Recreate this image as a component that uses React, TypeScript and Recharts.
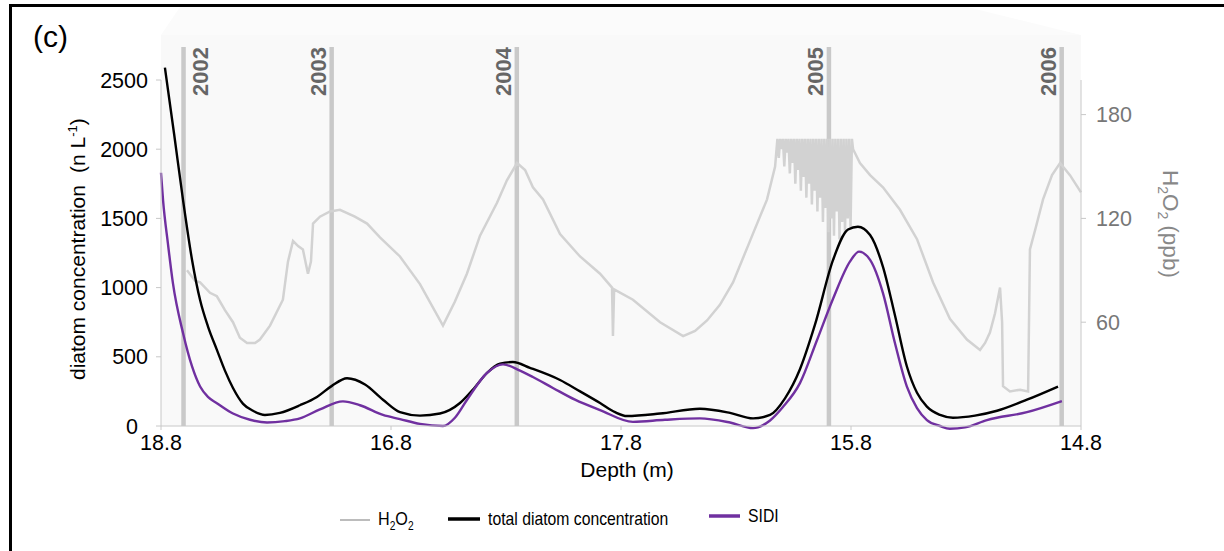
import React from 'react';
import { LineChart, Line, XAxis, YAxis, ReferenceLine } from 'recharts';

// ---------- data ----------
const depthTickPos = [0, 1, 2, 3, 4];
const depthTickLabels = ['18.8', '16.8', '17.8', '15.8', '14.8'];
const diatomTicks = [0, 500, 1000, 1500, 2000, 2500];
const h2o2Ticks = [60, 120, 180];

const yearPos = [0.098, 0.742, 1.547, 2.904, 3.916];
const yearLabels = ['2002', '2003', '2004', '2005', '2006'];

const totalPos = [0.017, 0.057, 0.096, 0.135, 0.17, 0.204, 0.243, 0.278, 0.313, 0.357, 0.4, 0.452, 0.517, 0.604, 0.678, 0.743, 0.809, 0.887, 0.965, 1.039, 1.126, 1.213, 1.3, 1.365, 1.417, 1.474, 1.53, 1.604, 1.735, 1.822, 1.909, 1.974, 2.026, 2.17, 2.343, 2.474, 2.574, 2.648, 2.713, 2.778, 2.843, 2.922, 2.987, 3.03, 3.083, 3.139, 3.191, 3.243, 3.287, 3.33, 3.387, 3.443, 3.539, 3.635, 3.765, 3.9];
const totalVal = [2590, 2110, 1630, 1200, 910, 720, 550, 400, 275, 160, 110, 80, 95, 150, 210, 290, 345, 300, 190, 100, 75, 90, 166, 280, 383, 450, 462, 420, 332, 250, 166, 100, 72, 90, 125, 95, 55, 80, 200, 410, 730, 1200, 1420, 1440, 1380, 1150, 800, 430, 240, 140, 80, 60, 75, 110, 190, 285];

const sidiPos = [0, 0.009, 0.03, 0.052, 0.096, 0.135, 0.17, 0.204, 0.243, 0.313, 0.387, 0.461, 0.539, 0.604, 0.691, 0.791, 0.865, 0.965, 1.039, 1.126, 1.226, 1.278, 1.33, 1.417, 1.487, 1.561, 1.617, 1.704, 1.8, 1.909, 2.052, 2.191, 2.343, 2.474, 2.574, 2.648, 2.704, 2.778, 2.852, 2.922, 2.996, 3.035, 3.083, 3.139, 3.191, 3.243, 3.287, 3.33, 3.387, 3.43, 3.496, 3.591, 3.765, 3.917];
const sidiVal = [1830, 1630, 1320, 1030, 670, 430, 285, 210, 165, 90, 45, 25, 35, 55, 120, 178, 150, 80, 50, 15, 0, 60, 188, 383, 445, 400, 354, 275, 190, 115, 30, 45, 55, 25, -15, 40, 137, 310, 620, 920, 1190, 1260, 1200, 960, 600, 285, 130, 43, 0, -20, -10, 43, 100, 180];

const h2o2Pos = [
  0.113, 0.148, 0.17, 0.213, 0.243, 0.278, 0.313, 0.343, 0.374, 0.409, 0.43, 0.474, 0.53, 0.552, 0.574, 0.596, 0.617, 0.639, 0.652, 0.661,
  0.691, 0.735, 0.778, 0.843, 0.896, 0.952, 1.039, 1.126, 1.226, 1.278, 1.33, 1.387, 1.461, 1.504, 1.548, 1.583, 1.617, 1.661, 1.735, 1.822,
  1.909, 1.961, 1.965, 1.97, 2.052, 2.17, 2.27, 2.322, 2.374, 2.43, 2.487, 2.561, 2.635, 2.67,
  2.68, 2.686, 2.692, 2.698, 2.704, 2.71, 2.716, 2.722, 2.728, 2.734, 2.74, 2.746, 2.752, 2.758, 2.764, 2.77, 2.776, 2.782, 2.788, 2.794,
  2.8, 2.806, 2.812, 2.818, 2.824, 2.83, 2.836, 2.842, 2.848, 2.854, 2.86, 2.866, 2.872, 2.878, 2.884, 2.89, 2.896, 2.902, 2.908, 2.914,
  2.92, 2.926, 2.932, 2.938, 2.944, 2.95, 2.956, 2.962, 2.968, 2.974, 2.98, 2.986, 2.992, 2.998, 3.004,
  3.009, 3.039, 3.083, 3.139, 3.213, 3.287, 3.357, 3.43, 3.504, 3.561, 3.583, 3.604, 3.626, 3.648, 3.657, 3.661, 3.691, 3.735, 3.77, 3.778,
  3.804, 3.835, 3.874, 3.909, 3.952, 4.0,
];
const h2o2Val = [
  90, 84, 83, 77, 75, 67, 60, 51, 48, 48, 50, 58, 73, 95, 107, 104, 102, 88, 95, 117,
  121, 124, 125, 121, 117, 109, 98, 82, 58, 72, 88, 110, 129, 142, 152, 148, 138, 131, 111, 98,
  88, 80, 52, 79, 73, 60, 52, 55, 61, 70, 83, 107, 131, 150,
  166, 155, 166, 160, 166, 150, 166, 158, 166, 146, 166, 152, 166, 140, 166, 148, 166, 136, 166, 144,
  166, 132, 166, 140, 166, 128, 166, 136, 166, 124, 166, 132, 166, 118, 166, 126, 166, 112, 166, 120,
  166, 110, 166, 124, 166, 108, 166, 118, 166, 112, 166, 120, 166, 114, 166,
  160, 152, 145, 138, 125, 108, 83, 62, 50, 44, 48, 54, 65, 80, 60, 23, 20, 21, 20, 102,
  115, 131, 145, 152, 145, 135,
];

const totalSeries = totalPos.map((x, i) => ({ x, y: totalVal[i] }));
const sidiSeries = sidiPos.map((x, i) => ({ x, y: sidiVal[i] }));
const h2o2Series = h2o2Pos.map((x, i) => ({ x, y: h2o2Val[i] }));

// ---------- styles ----------
const W = 1224;
const H = 551;
const FONT = '"Liberation Sans", Arial, Helvetica, sans-serif';
const AXIS_GREY = '#c8c8c8';
const PURPLE = '#7030a0';
const H2O2_GREY = '#d2d2d2';
const CSS = '.recharts-wrapper [clip-path]{clip-path:none !important;}';

const makeYearShape = (label: string, labelRight: boolean) => (props: any) => {
  const x = props.x1;
  const top = Math.min(props.y1, props.y2) - 33;
  const bottom = Math.max(props.y1, props.y2);
  const tx = labelRight ? x + 24 : x - 6;
  return (
    <g>
      <line x1={x} x2={x} y1={top} y2={bottom} stroke="#c9c9c9" strokeWidth={4.5} />
      <text
        x={tx}
        y={top}
        transform={`rotate(-90 ${tx} ${top})`}
        textAnchor="end"
        fontSize={22}
        fontWeight="bold"
        fill="#666"
        fontFamily={FONT}
      >
        {label}
      </text>
    </g>
  );
};

const leftTick = (props: any) => {
  const v = props.payload ? props.payload.value : '';
  const shift = v === 0 ? 10 : 0;
  return (
    <text
      x={props.x - shift}
      y={props.y}
      dy="0.355em"
      textAnchor="end"
      fontSize={21.5}
      fill="#000"
      fontFamily={FONT}
    >
      {v}
    </text>
  );
};

const leftTitle = (props: any) => {
  const vb = props && props.viewBox ? props.viewBox : { x: 101, y: 80 };
  const x = vb.x - 16;
  const y = vb.y + 300;
  return (
    <text x={x} y={y} transform={`rotate(-90 ${x} ${y})`} fontSize={21} fill="#000" fontFamily={FONT}>
      diatom concentration
      <tspan dx={12}>(n L</tspan>
      <tspan dy={-8} fontSize={13}>-1</tspan>
      <tspan dy={8}>)</tspan>
    </text>
  );
};

const rightTitle = (props: any) => {
  const vb = props && props.viewBox ? props.viewBox : { x: 1081, y: 80 };
  const x = vb.x + 82;
  const y = vb.y + 90;
  return (
    <text x={x} y={y} transform={`rotate(90 ${x} ${y})`} fontSize={22.5} fill="#888" fontFamily={FONT}>
      H<tspan dy={5} fontSize={14}>2</tspan>
      <tspan dy={-5}>O</tspan>
      <tspan dy={5} fontSize={14}>2</tspan>
      <tspan dy={-5} dx={6}>(ppb)</tspan>
    </text>
  );
};

const bottomTitle = (props: any) => {
  const vb = props && props.viewBox ? props.viewBox : { x: 161, y: 426 };
  const x = vb.x + 466;
  const y = vb.y + 51;
  return (
    <text x={x} y={y} textAnchor="middle" fontSize={21} fill="#000" fontFamily={FONT}>
      Depth (m)
    </text>
  );
};

export default function App() {
  return (
    <div
      style={{
        position: 'absolute',
        left: 0,
        top: 0,
        width: W,
        height: H,
        overflow: 'hidden',
        background: '#fff',
        fontFamily: FONT,
      }}
    >
      <style>{CSS}</style>
      {/* plot background */}
      <svg style={{ position: 'absolute', left: 0, top: 0 }} width={W} height={H}>
        <polygon points="161,35 180,7 967,7 1081,35" fill="#fbfbfb" />
        <rect x={161} y={35} width={920} height={391} fill="#f9f9f9" />
      </svg>
      <div style={{ position: 'absolute', left: 0, top: 0 }}>
        <LineChart width={W} height={H} margin={{ top: 80, right: 83, bottom: 95, left: 101 }} style={{ fontFamily: FONT }}>
          <XAxis
            type="number"
            dataKey="x"
            domain={[0, 4]}
            ticks={depthTickPos}
            interval={0}
            tickFormatter={(v: number) => depthTickLabels[depthTickPos.indexOf(v)]}
            axisLine={{ stroke: AXIS_GREY }}
            tickLine={{ stroke: AXIS_GREY }}
            tickSize={4}
            tickMargin={5}
            tick={{ fill: '#000', fontSize: 21.5 }}
            height={30}
            label={bottomTitle}
          />
          <YAxis
            yAxisId="left"
            type="number"
            domain={[0, 2500]}
            allowDataOverflow
            ticks={diatomTicks}
            interval={0}
            axisLine={{ stroke: AXIS_GREY }}
            tickLine={{ stroke: AXIS_GREY }}
            tickSize={5}
            tickMargin={8}
            tick={leftTick}
            width={60}
            label={leftTitle}
          />
          <YAxis
            yAxisId="right"
            orientation="right"
            type="number"
            domain={[0, 200]}
            ticks={h2o2Ticks}
            interval={0}
            axisLine={{ stroke: AXIS_GREY }}
            tickLine={{ stroke: AXIS_GREY }}
            tickSize={5}
            tickMargin={10}
            tick={{ fill: '#777', fontSize: 21.5 }}
            width={60}
            label={rightTitle}
          />
          {yearPos.map((p, i) => (
            <ReferenceLine
              key={yearLabels[i]}
              x={p}
              yAxisId="left"
              shape={makeYearShape(yearLabels[i], i === 0)}
            />
          ))}
          <Line
            yAxisId="right"
            data={h2o2Series}
            dataKey="y"
            type="linear"
            stroke={H2O2_GREY}
            strokeWidth={2.5}
            dot={false}
            activeDot={false}
            isAnimationActive={false}
          />
          <Line
            yAxisId="left"
            data={totalSeries}
            dataKey="y"
            type="monotone"
            stroke="#000"
            strokeWidth={2.4}
            dot={false}
            activeDot={false}
            isAnimationActive={false}
          />
          <Line
            yAxisId="left"
            data={sidiSeries}
            dataKey="y"
            type="monotone"
            stroke={PURPLE}
            strokeWidth={2.4}
            dot={false}
            activeDot={false}
            isAnimationActive={false}
          />
        </LineChart>
      </div>
      {/* panel letter and legend */}
      <svg style={{ position: 'absolute', left: 0, top: 0, pointerEvents: 'none' }} width={W} height={H}>
        <text x={33} y={47} fontSize={30} fill="#000" fontFamily={FONT}>(c)</text>
        <line x1={340} x2={370} y1={520} y2={520} stroke="#a6a6a6" strokeWidth={1.5} />
        <text transform="translate(378,525) scale(0.85,1)" fontSize={19} fill="#000" fontFamily={FONT}>
          H<tspan dy={5} fontSize={12}>2</tspan>
          <tspan dy={-5}>O</tspan>
          <tspan dy={5} fontSize={12}>2</tspan>
        </text>
        <line x1={448} x2={480} y1={519} y2={519} stroke="#000" strokeWidth={3.5} />
        <text transform="translate(488,525) scale(0.83,1)" fontSize={19} fill="#000" fontFamily={FONT}>
          total diatom concentration
        </text>
        <line x1={709} x2={740} y1={516} y2={516} stroke={PURPLE} strokeWidth={3.5} />
        <text transform="translate(748,522) scale(0.83,1)" fontSize={19} fill="#000" fontFamily={FONT}>
          SIDI
        </text>
      </svg>
      {/* frame */}
      <div
        style={{
          position: 'absolute',
          left: 9,
          top: 4,
          width: W,
          height: H,
          borderTop: '3px solid #000',
          borderLeft: '3px solid #000',
          boxSizing: 'border-box',
          pointerEvents: 'none',
        }}
      />
    </div>
  );
}
